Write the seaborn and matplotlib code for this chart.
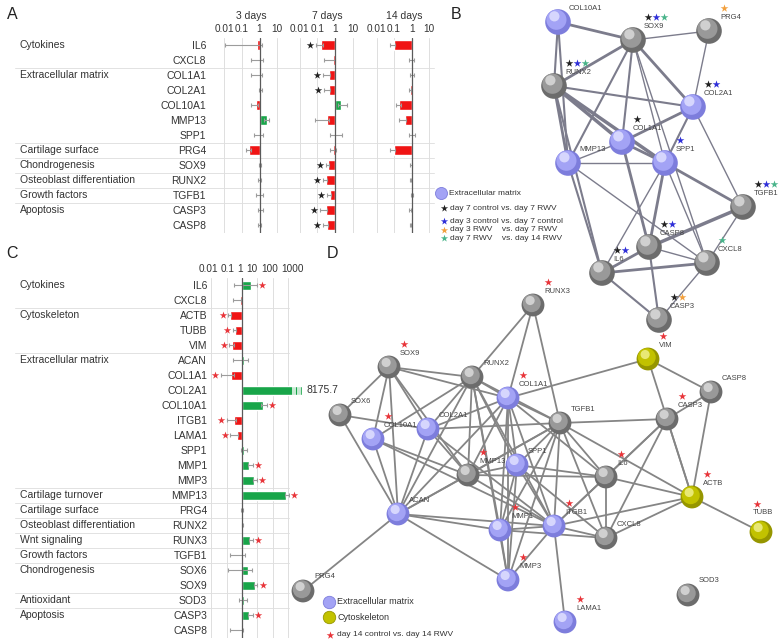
import numpy as np
import pandas as pd
import seaborn as sns
import matplotlib.pyplot as plt
from matplotlib import transforms

sns.set_theme(style="white")
plt.rcParams["font.family"] = ["Liberation Sans", "DejaVu Sans"]
plt.rcParams["text.color"] = "#333333"

# ---------------- panel A data (fold change, RWV vs control) ----------------
genes_a = ["IL6", "CXCL8", "COL1A1", "COL2A1", "COL10A1", "MMP13", "SPP1",
           "PRG4", "SOX9", "RUNX2", "TGFB1", "CASP3", "CASP8"]
groups_a = [("Cytokines", 0), ("Extracellular matrix", 2), ("Cartilage surface", 7),
            ("Chondrogenesis", 8), ("Osteoblast differentiation", 9),
            ("Growth factors", 10), ("Apoptosis", 11)]
days_a = ["3 days", "7 days", "14 days"]
fold_d3 = [0.75, 1.0, 0.9, 1.12, 0.6, 2.5, 1.0, 0.26, 1.06, 1.0, 1.0, 1.1, 1.0]
lo_d3 = [0.011, 0.33, 0.35, 0.9, 0.35, 1.8, 0.5, 0.17, 0.9, 0.8, 0.65, 0.8, 0.8]
hi_d3 = [1.3, 1.5, 1.35, 1.3, 0.8, 3.3, 1.5, 0.35, 1.2, 1.25, 1.5, 1.5, 1.25]
fold_d7 = [0.16, 0.8, 0.45, 0.45, 2.2, 0.35, 1.2, 0.75, 0.4, 0.3, 0.5, 0.3, 0.35]
lo_d7 = [0.08, 0.25, 0.2, 0.25, 1.5, 0.07, 0.5, 0.5, 0.3, 0.2, 0.35, 0.15, 0.2]
hi_d7 = [0.2, 1.0, 0.55, 0.55, 5.0, 0.45, 2.5, 1.1, 0.45, 0.35, 0.6, 0.35, 0.4]
fold_d14 = [0.1, 0.92, 0.97, 0.82, 0.2, 0.4, 1.0, 0.1, 0.9, 0.88, 1.05, 0.87, 0.87]
lo_d14 = [0.06, 0.7, 0.75, 0.7, 0.13, 0.2, 0.7, 0.06, 0.8, 0.8, 0.95, 0.7, 0.75]
hi_d14 = [0.12, 1.3, 1.3, 0.9, 0.25, 0.5, 1.6, 0.12, 1.0, 0.95, 1.15, 0.95, 0.95]
sig_d3 = [0] * 13
sig_d7 = [1, 0, 1, 1, 0, 0, 0, 0, 1, 1, 1, 1, 1]
sig_d14 = [0] * 13

# ---------------- panel C data (day 14) ----------------
genes_c = ["IL6", "CXCL8", "ACTB", "TUBB", "VIM", "ACAN", "COL1A1", "COL2A1",
           "COL10A1", "ITGB1", "LAMA1", "SPP1", "MMP1", "MMP3", "MMP13", "PRG4",
           "RUNX2", "RUNX3", "TGFB1", "SOX6", "SOX9", "SOD3", "CASP3", "CASP8"]
groups_c = [("Cytokines", 0), ("Cytoskeleton", 2), ("Extracellular matrix", 5),
            ("Cartilage turnover", 14), ("Cartilage surface", 15),
            ("Osteoblast differentiation", 16), ("Wnt signaling", 17),
            ("Growth factors", 18), ("Chondrogenesis", 19), ("Antioxidant", 21),
            ("Apoptosis", 22)]
fold_c = [3.7, 0.75, 0.16, 0.35, 0.22, 1.3, 0.19, 8175.7, 24, 0.3, 0.47, 1.3,
          2.9, 6.0, 750, 1.0, 1.1, 3.3, 1.05, 2.5, 7.0, 1.3, 3.0, 0.8]
lo_c = [0.3, 0.26, 0.12, 0.25, 0.15, 0.27, 0.04, np.nan, 18, 0.1, 0.17, 0.8,
        2.4, 5.0, 600, 0.9, 1.0, 2.8, 0.17, 0.12, 6.0, 0.6, 2.5, 0.17]
hi_c = [9.5, 0.9, 0.2, 0.4, 0.3, 2.5, 0.3, np.nan, 43, 0.4, 0.55, 2.0,
        5.0, 9.0, 1200, 1.1, 1.2, 5.0, 1.6, 4.5, 10, 2.2, 5.0, 1.1]
sig_c = [1, 0, 1, 1, 1, 0, 1, 0, 1, 1, 1, 0, 1, 1, 1, 0, 0, 1, 0, 0, 1, 0, 1, 0]
col2a1_label = "8175.7"

# ---------------- panel B network ----------------
b_nodes = ["COL10A1", "SOX9", "PRG4", "RUNX2", "COL2A1", "COL1A1", "MMP13",
           "SPP1", "TGFB1", "CASP8", "CXCL8", "IL6", "CASP3"]
b_x = [558, 633, 709, 554, 693, 622, 568, 665, 743, 649, 707, 602, 659]
b_y = [22, 40, 31, 86, 107, 142, 163, 163, 207, 247, 263, 273, 320]
b_group = ["ecm", "other", "other", "other", "ecm", "ecm", "ecm", "ecm",
           "other", "other", "other", "other", "other"]
b_edges = [("COL10A1", "SOX9", 2), ("COL10A1", "RUNX2", 1.5), ("COL10A1", "MMP13", 1.5),
           ("SOX9", "PRG4", 1), ("SOX9", "RUNX2", 2), ("SOX9", "MMP13", 1.5),
           ("SOX9", "COL1A1", 1.5), ("SOX9", "SPP1", 1), ("SOX9", "COL2A1", 2),
           ("SOX9", "CXCL8", 1), ("PRG4", "COL2A1", 1), ("RUNX2", "COL2A1", 1.5),
           ("RUNX2", "COL1A1", 2.5), ("RUNX2", "SPP1", 2.5), ("RUNX2", "MMP13", 2),
           ("RUNX2", "IL6", 1.5), ("COL2A1", "COL1A1", 2), ("COL2A1", "SPP1", 1.5),
           ("COL2A1", "TGFB1", 1), ("COL1A1", "MMP13", 1), ("COL1A1", "SPP1", 2),
           ("COL1A1", "CASP8", 2), ("MMP13", "SPP1", 1), ("MMP13", "IL6", 1.5),
           ("MMP13", "CXCL8", 1), ("SPP1", "TGFB1", 2), ("SPP1", "CASP8", 2),
           ("SPP1", "IL6", 1), ("SPP1", "CXCL8", 1), ("TGFB1", "CASP8", 2.5),
           ("TGFB1", "CXCL8", 1), ("CASP8", "IL6", 2), ("CASP8", "CASP3", 1.5),
           ("CASP8", "CXCL8", 1), ("IL6", "CXCL8", 2), ("IL6", "CASP3", 1.5),
           ("CXCL8", "CASP3", 1)]
b_stars = {"SOX9": "kbg", "PRG4": "o", "RUNX2": "kbg", "COL2A1": "kb", "COL1A1": "k",
           "SPP1": "b", "TGFB1": "kbg", "CASP8": "kb", "CXCL8": "g", "IL6": "kb",
           "CASP3": "ko"}
b_legend = ["day 7 control vs. day 7 RWV", "day 3 control vs. day 7 control",
            "day 3 RWV    vs. day 7 RWV", "day 7 RWV    vs. day 14 RWV"]

# ---------------- panel D network ----------------
d_nodes = ["RUNX3", "SOX9", "RUNX2", "COL1A1", "VIM", "CASP8", "SOX6", "COL10A1",
           "COL2A1", "TGFB1", "CASP3", "MMP13", "SPP1", "IL6", "ACTB", "ACAN",
           "MMP1", "ITGB1", "CXCL8", "TUBB", "MMP3", "PRG4", "SOD3", "LAMA1"]
d_x = [533, 389, 472, 508, 648, 711, 340, 373, 428, 560, 667, 468, 517, 606,
       692, 398, 500, 554, 606, 761, 508, 303, 688, 565]
d_y = [305, 367, 377, 398, 359, 392, 415, 439, 429, 423, 419, 475, 465, 477,
       497, 514, 530, 526, 538, 532, 580, 591, 595, 622]
d_group = ["other", "other", "other", "ecm", "cyto", "other", "other", "ecm",
           "ecm", "other", "other", "other", "ecm", "other", "cyto", "ecm",
           "ecm", "ecm", "other", "cyto", "ecm", "other", "other", "ecm"]
d_edges = ("RUNX3-RUNX2 RUNX3-COL1A1 RUNX3-TGFB1 SOX9-RUNX2 SOX9-SOX6 SOX9-COL10A1 "
           "SOX9-COL2A1 SOX9-ACAN SOX9-MMP13 SOX9-COL1A1 RUNX2-COL1A1 RUNX2-COL2A1 "
           "RUNX2-COL10A1 RUNX2-ACAN RUNX2-MMP13 RUNX2-SPP1 RUNX2-TGFB1 RUNX2-ITGB1 "
           "RUNX2-MMP1 RUNX2-MMP3 COL1A1-VIM COL1A1-COL2A1 COL1A1-TGFB1 COL1A1-SPP1 "
           "COL1A1-MMP13 COL1A1-ACAN COL1A1-MMP1 COL1A1-ITGB1 COL1A1-IL6 COL1A1-MMP3 "
           "VIM-CASP8 VIM-ACTB CASP8-CASP3 CASP8-ACTB SOX6-COL2A1 SOX6-ACAN "
           "COL10A1-ACAN COL10A1-MMP13 COL10A1-ITGB1 COL2A1-TGFB1 COL2A1-ACAN "
           "COL2A1-MMP13 COL2A1-ITGB1 TGFB1-CASP3 TGFB1-SPP1 TGFB1-IL6 TGFB1-ITGB1 "
           "TGFB1-MMP1 TGFB1-CXCL8 TGFB1-MMP13 TGFB1-MMP3 TGFB1-ACAN TGFB1-ACTB "
           "CASP3-IL6 CASP3-ACTB CASP3-CXCL8 CASP3-ITGB1 MMP13-SPP1 MMP13-ACAN "
           "MMP13-IL6 MMP13-ITGB1 SPP1-IL6 SPP1-ITGB1 SPP1-MMP1 SPP1-MMP3 SPP1-CXCL8 "
           "IL6-CXCL8 IL6-ACTB IL6-ITGB1 ACTB-TUBB ACTB-ITGB1 ACTB-CXCL8 ACAN-MMP1 "
           "ACAN-MMP3 ACAN-ITGB1 ACAN-PRG4 MMP1-MMP3 MMP1-ITGB1 MMP1-CXCL8 "
           "ITGB1-LAMA1 ITGB1-CXCL8 ITGB1-MMP3").split()
d_stars = ["RUNX3", "SOX9", "COL1A1", "VIM", "COL10A1", "CASP3", "MMP13", "IL6",
           "ACTB", "MMP1", "ITGB1", "TUBB", "MMP3", "LAMA1"]

RED, GREEN = "#f01414", "#18a549"
TXT = "#333333"
W, H = 780, 644
fig = plt.figure(figsize=(7.8, 6.44), dpi=100)


def px_axes(x0, y0, x1, y1):
    return fig.add_axes([x0 / W, 1 - y1 / H, (x1 - x0) / W, (y1 - y0) / H])


def bar_panel(ax, genes, fold, lo, hi, sig, star_col, xlim, bw):
    fold = np.array(fold, float)
    df = pd.DataFrame({"gene": genes, "lfc": np.log10(fold),
                       "dir": np.where(fold >= 1, "up", "down")})
    sns.barplot(data=df, x="lfc", y="gene", hue="dir", order=genes,
                palette={"up": GREEN, "down": RED}, dodge=False, width=bw,
                saturation=1, errorbar=None, legend=False, orient="h", ax=ax, zorder=2)
    lfc = df["lfc"].values
    llo, lhi = np.log10(np.array(lo, float)), np.log10(np.array(hi, float))
    ypos = np.arange(len(genes))
    ax.errorbar(lfc, ypos, xerr=[lfc - llo, lhi - lfc], fmt="none",
                ecolor="#9c9c9c", elinewidth=0.8, capsize=1.4, capthick=0.8, zorder=3)
    sig = np.array(sig, bool)
    sx = np.where(fold < 1, np.fmin(llo, lfc) - 0.35, np.fmax(lhi, lfc) + 0.35)
    ax.scatter(sx[sig], ypos[sig], marker="*", s=32, color=star_col, lw=0, zorder=4,
               clip_on=False)
    ax.axvline(0, color="#5a5a5a", lw=0.9, zorder=4)
    ax.set_xlim(*xlim)
    ax.set_ylim(len(genes) - 0.5, -0.5)
    ax.grid(axis="x", color="#dedede", lw=0.7, zorder=0)
    ax.grid(axis="y", visible=False)
    ax.set_xlabel("")
    ax.set_ylabel("")
    for s in ax.spines.values():
        s.set_visible(False)
    ax.set_facecolor("none")


def groups_and_lines(ax, groups, x_right):
    trans = transforms.blended_transform_factory(fig.transFigure, ax.transData)
    for name, row in groups:
        ax.text(20 / W, row, name, transform=trans, ha="left", va="center",
                fontsize=7.5, color=TXT)
    for _, b in groups[1:]:
        ax.plot([15 / W, x_right / W], [b - 0.5, b - 0.5], transform=trans,
                color="#e2e2e2", lw=0.7, clip_on=False, zorder=0)


# ---- panel A ----
dec_a = 17.6
ones_a = [259.5, 335, 411.7]
a_data = [(fold_d3, lo_d3, hi_d3, sig_d3), (fold_d7, lo_d7, hi_d7, sig_d7),
          (fold_d14, lo_d14, hi_d14, sig_d14)]
xl_a = (-2.2, 1.3)
axes_a = []
for i, (one, (f, lo, hi, sg)) in enumerate(zip(ones_a, a_data)):
    ax = px_axes(one + xl_a[0] * dec_a, 37.5, one + xl_a[1] * dec_a, 37.5 + 15 * 13)
    bar_panel(ax, genes_a, f, lo, hi, sg, "#222222", xl_a, 0.7)
    ax.xaxis.tick_top()
    ax.set_xticks([-2, -1, 0, 1], ["0.01", "0.1", "1", "10"])
    ax.tick_params(axis="x", length=0, pad=2.2, labelsize=7.2, colors=TXT)
    ax.set_title(days_a[i], fontsize=7.5, color=TXT, pad=13)
    if i == 0:
        ax.tick_params(axis="y", length=0, pad=10.5, labelsize=7.5, colors=TXT)
    else:
        ax.tick_params(axis="y", length=0, labelleft=False)
    axes_a.append(ax)
groups_and_lines(axes_a[0], groups_a, 434)

# ---- panel C ----
dec_c = 15.3
xl_c = (-2.05, 3.05)
axc = px_axes(242 + xl_c[0] * dec_c, 277.5, 242 + xl_c[1] * dec_c, 277.5 + 15 * 24)
bar_panel(axc, genes_c, fold_c, lo_c, hi_c, sig_c, "#e8353a", xl_c, 0.6)
for p in axc.patches:
    p.set_clip_on(False)
axc.set_xticks([-2, -1, 0, 1, 2, 3], [""] * 6)
axc.tick_params(axis="x", length=0, labeltop=False, labelbottom=False)
axc.tick_params(axis="y", length=0, pad=2.6, labelsize=7.5, colors=TXT)
c_tick_text = ["0.01", "0.1", "1", "10", "100", "1000"]
c_tick_shift = [-1.8, 0.7, -1.4, -3.6, -2.2, 3.6]
for t, lab, dx in zip([-2, -1, 0, 1, 2, 3], c_tick_text, c_tick_shift):
    axc.annotate(lab, xy=(t, 1), xycoords=("data", "axes fraction"), xytext=(dx, 6.2),
                 textcoords="offset points", ha="center", va="center", fontsize=7.2,
                 color=TXT, annotation_clip=False)
i2 = genes_c.index("COL2A1")
top = np.log10(fold_c[i2])
for k in range(4):
    xb = top - 0.58 + k * 0.15
    axc.plot([xb, xb], [i2 - 0.32, i2 + 0.32], color="white", lw=1.1, zorder=5,
             clip_on=False)
axc.annotate(col2a1_label, xy=(top, i2), xytext=(3, 0), textcoords="offset points",
             ha="left", va="center", fontsize=7.5, color=TXT, annotation_clip=False)
groups_and_lines(axc, groups_c, 289)

# ---- networks (B and D) on a pixel-space overlay ----
net = fig.add_axes([0, 0, 1, 1])

shades = {"other": ("#6c6c6c", "#999999", "#dadada"),
          "ecm": ("#7d7ddc", "#a3a3f5", "#e0e0ff"),
          "cyto": ("#969600", "#c2c200", "#efef8a")}


def draw_network(names, xs, ys, groups, edges, size, ecol):
    pos = {n: (x, y) for n, x, y in zip(names, xs, ys)}
    for a, b, w in edges:
        net.plot([pos[a][0], pos[b][0]], [pos[a][1], pos[b][1]], color=ecol,
                 lw=w, solid_capstyle="round", zorder=1)
    df = pd.DataFrame({"x": xs, "y": ys, "g": groups})
    for k, (scale, dx, dy) in enumerate([(1.0, 0, 0), (0.62, -1.4, -2.0), (0.16, -3.2, -5.0)]):
        sns.scatterplot(data=df.assign(x=df.x + dx * size / 300, y=df.y + dy * size / 300),
                        x="x", y="y", hue="g", palette={g: shades[g][k] for g in shades},
                        s=size * scale, linewidth=0, legend=False, ax=net, zorder=2 + k,
                        alpha=0.85 if k == 2 else 1)
    return pos


pos_b = draw_network(b_nodes, b_x, b_y, b_group, b_edges, 340, "#7c7c8c")
d_edge_list = [tuple(e.split("-")) + (1.3,) for e in d_edges]
pos_d = draw_network(d_nodes, d_x, d_y, d_group, d_edge_list, 270, "#858585")

net.set_xlim(0, W)
net.set_ylim(H, 0)
net.axis("off")

star_cols = {"k": "#222222", "b": "#2f2fd8", "o": "#f2a03d", "g": "#49b48a"}
label_off = {"TUBB": (-8, -19)}
for pos, stars in [(pos_b, b_stars), (pos_d, {g: "r" for g in d_stars})]:
    for name, (x, y) in pos.items():
        lx, ly = label_off.get(name, (11, -14))
        net.text(x + lx, y + ly, name, fontsize=5.5, color="#444444", ha="left",
                 va="center", zorder=6)
        for j, c in enumerate(stars.get(name, "")):
            net.scatter(x + lx + 4 + 8 * j, y + ly - 9, marker="*", s=34, lw=0,
                        color=star_cols.get(c, "#e8353a"), zorder=6)

# legends
net.scatter([441], [193], s=75, color="#a3a3f5", edgecolor="#7d7ddc", lw=0.6, zorder=6)
net.text(449, 193, "Extracellular matrix", fontsize=6, va="center", color=TXT)
for j, (lab, c) in enumerate(zip(b_legend, "kbog")):
    yy = [208, 221, 229.5, 238][j]
    net.scatter([444], [yy], marker="*", s=30, lw=0, color=star_cols[c], zorder=6)
    net.text(450, yy, lab, fontsize=6, va="center", color=TXT)

net.scatter([329], [602], s=80, color="#a3a3f5", edgecolor="#7d7ddc", lw=0.6, zorder=6)
net.text(337, 602, "Extracellular matrix", fontsize=6.5, va="center", color=TXT)
net.scatter([329], [617], s=80, color="#c2c200", edgecolor="#969600", lw=0.6, zorder=6)
net.text(337, 617, "Cytoskeleton", fontsize=6.5, va="center", color=TXT)
net.scatter([330], [635], marker="*", s=34, lw=0, color="#e8353a", zorder=6)
net.text(337, 635, "day 14 control vs. day 14 RWV", fontsize=6, va="center", color=TXT)

# panel letters
for lab, x, y in [("A", 12, 14), ("B", 456, 14), ("C", 12, 253), ("D", 333, 253)]:
    net.text(x, y, lab, fontsize=11.5, ha="center", va="center", color="#222222")

fig.savefig("out.png", dpi=100)
